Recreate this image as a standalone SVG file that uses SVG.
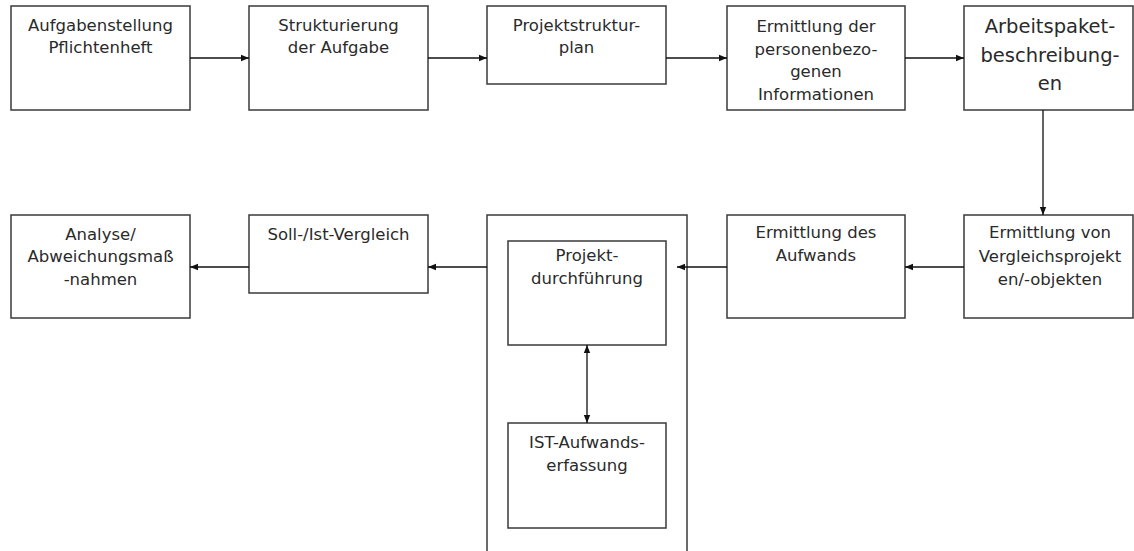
<svg xmlns="http://www.w3.org/2000/svg" width="1134" height="551" viewBox="0 0 1134 551">
<style>
.box{fill:#fff;stroke:#3a3a3a;stroke-width:1.5}
.t{font-family:"DejaVu Sans",Verdana,sans-serif;font-size:16.5px;fill:#2a2a2a;text-anchor:middle}
.big{font-size:19.5px}
.c{stroke:#111;stroke-width:1.3;fill:none}
</style>
<defs>
<marker id="ah" viewBox="0 0 10 10" refX="10" refY="5" markerWidth="8" markerHeight="8" markerUnits="userSpaceOnUse" orient="auto-start-reverse">
<path d="M0,1 L10,5 L0,9 z" fill="#111"/>
</marker>
</defs>
<rect width="1134" height="551" fill="#fff"/>
<g id="n1"><rect class="box" x="11" y="6" width="179" height="104"/>
<text class="t" x="100.5" y="31">Aufgabenstellung</text><text class="t" x="100.5" y="53">Pflichtenheft</text></g>
<g id="n2"><rect class="box" x="249" y="6" width="179" height="104"/>
<text class="t" x="338.5" y="31">Strukturierung</text><text class="t" x="338.5" y="53">der Aufgabe</text></g>
<g id="n3"><rect class="box" x="487" y="6" width="179" height="78"/>
<text class="t" x="576.5" y="31">Projektstruktur-</text><text class="t" x="576.5" y="53">plan</text></g>
<g id="n4"><rect class="box" x="727" y="6" width="178" height="104"/>
<text class="t" x="816" y="32">Ermittlung der</text><text class="t" x="816" y="54.5">personenbezo-</text><text class="t" x="816" y="77">genen</text><text class="t" x="816" y="99.5">Informationen</text></g>
<g id="n5"><rect class="box" x="964" y="6" width="169" height="104"/>
<text class="t big" x="1050" y="33">Arbeitspaket-</text><text class="t big" x="1050" y="62">beschreibung-</text><text class="t big" x="1050" y="90">en</text></g>
<g id="n6"><rect class="box" x="964" y="215" width="169" height="103"/>
<text class="t" x="1050" y="238">Ermittlung von</text><text class="t" x="1050" y="262">Vergleichsprojekt</text><text class="t" x="1050" y="285">en/-objekten</text></g>
<g id="n7"><rect class="box" x="727" y="215" width="178" height="103"/>
<text class="t" x="816" y="238">Ermittlung des</text><text class="t" x="816" y="261">Aufwands</text></g>
<g id="n8"><rect class="box" x="487" y="215" width="200" height="345"/></g>
<g id="n9"><rect class="box" x="508" y="241" width="158" height="104"/>
<text class="t" x="587" y="261">Projekt-</text><text class="t" x="587" y="284">durchführung</text></g>
<g id="n10"><rect class="box" x="508" y="423" width="158" height="105"/>
<text class="t" x="587" y="448">IST-Aufwands-</text><text class="t" x="587" y="471">erfassung</text></g>
<g id="n11"><rect class="box" x="249" y="215" width="179" height="78"/>
<text class="t" x="338.5" y="240">Soll-/Ist-Vergleich</text></g>
<g id="n12"><rect class="box" x="11" y="215" width="179" height="103"/>
<text class="t" x="100.5" y="240">Analyse/</text><text class="t" x="100.5" y="262">Abweichungsmaß</text><text class="t" x="100.5" y="285">-nahmen</text></g>
<g id="connectors">
<line class="c" x1="190" y1="58" x2="249" y2="58" marker-end="url(#ah)"/>
<line class="c" x1="428" y1="58" x2="487" y2="58" marker-end="url(#ah)"/>
<line class="c" x1="666" y1="58" x2="727" y2="58" marker-end="url(#ah)"/>
<line class="c" x1="905" y1="58" x2="964" y2="58" marker-end="url(#ah)"/>
<line class="c" x1="1043" y1="110" x2="1043" y2="215" marker-end="url(#ah)"/>
<line class="c" x1="964" y1="267" x2="905" y2="267" marker-end="url(#ah)"/>
<line class="c" x1="727" y1="267" x2="677" y2="267" marker-end="url(#ah)"/>
<line class="c" x1="487" y1="267" x2="428" y2="267" marker-end="url(#ah)"/>
<line class="c" x1="249" y1="267" x2="190" y2="267" marker-end="url(#ah)"/>
<line class="c" x1="587" y1="345" x2="587" y2="423" marker-start="url(#ah)" marker-end="url(#ah)"/>
</g>
</svg>
